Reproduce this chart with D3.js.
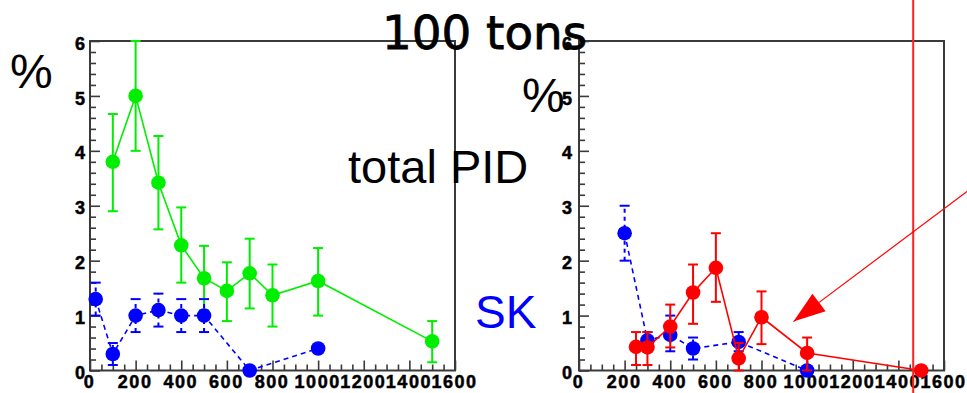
<!DOCTYPE html>
<html>
<head>
<meta charset="utf-8">
<script src="https://cdn.jsdelivr.net/npm/d3@7"></script>
<style>
  html, body { margin: 0; padding: 0; background: #fff; }
  svg { display: block; }
</style>
</head>
<body>
<svg id="chart" width="967" height="393"></svg>
<script>
// ---------- data ----------
const xMajorTicks = [0, 200, 400, 600, 800, 1000, 1200, 1400, 1600];
const yMajorTicks = [0, 1, 2, 3, 4, 5, 6];

// left panel: total PID (green)
const greenX   = [100, 200, 300, 400, 500, 600, 700, 800, 1000, 1500];
const greenY   = [3.8, 5.0, 3.42, 2.28, 1.68, 1.45, 1.77, 1.37, 1.63, 0.53];
const greenLo  = [2.9, 4.0, 2.57, 1.6, 1.1, 0.9, 1.13, 0.8, 1.0, 0.15];
const greenHi  = [4.67, 6.0, 4.27, 2.97, 2.27, 1.97, 2.4, 1.93, 2.23, 0.9];

// left panel: SK (blue)
const skLeftX  = [25, 100, 200, 300, 400, 500, 700, 1000];
const skLeftY  = [1.3, 0.3, 1.0, 1.1, 1.0, 1.0, 0.0, 0.4];
const skLeftLo = [1.0, 0.1, 0.7, 0.8, 0.7, 0.7, 0.0, 0.4];
const skLeftHi = [1.6, 0.5, 1.3, 1.4, 1.3, 1.3, 0.0, 0.4];

// right panel: SK (blue)
const skRightX  = [200, 300, 400, 500, 700, 1000];
const skRightY  = [2.5, 0.55, 0.65, 0.4, 0.52, 0.0];
const skRightLo = [2.0, 0.4, 0.35, 0.2, 0.35, 0.0];
const skRightHi = [3.0, 0.7, 1.0, 0.6, 0.7, 0.0];

// right panel: 100 tons (red)
const redX  = [250, 300, 400, 500, 600, 700, 800, 1000, 1500];
const redY  = [0.43, 0.42, 0.8, 1.42, 1.87, 0.22, 0.97, 0.32, 0.0];
const redLo = [0.1, 0.1, 0.42, 0.85, 1.25, 0.0, 0.48, 0.0, 0.0];
const redHi = [0.7, 0.7, 1.2, 1.93, 2.5, 0.5, 1.44, 0.6, 0.0];

// annotations (right panel data units)
const markerLineX = 1465;
const arrowTip  = [940, 0.89];
const arrowTail = [1846, 3.71];

// ---------- drawing ----------
const svg = d3.select("#chart");
const W = 967, H = 393;
const plotTop = 41, plotBottom = 370.5;
const frameColor = "#3a3a3a";
const tickFont = "'Liberation Sans', Arial, sans-serif";

function toPoints(xs, ys, lo, hi) {
  return xs.map((x, i) => ({ x, y: ys[i], lo: lo[i], hi: hi[i] }));
}

function panel(left, right, labelGap) {
  const x = d3.scaleLinear().domain([0, 1600]).range([left, right]);
  const y = d3.scaleLinear().domain([0, 6]).range([plotBottom, plotTop]);
  const g = svg.append("g");

  g.append("rect")
    .attr("x", left).attr("y", plotTop)
    .attr("width", right - left).attr("height", plotBottom - plotTop)
    .attr("fill", "none").attr("stroke", frameColor).attr("stroke-width", 2);

  const xMinor = d3.range(0, 1601, 50).filter(v => v % 200 !== 0);
  const gxm = g.append("g").attr("transform", `translate(0,${plotBottom})`)
    .call(d3.axisBottom(x).tickValues(xMinor).tickSizeInner(-6).tickSizeOuter(0).tickFormat(""));
  const gx = g.append("g").attr("transform", `translate(0,${plotBottom})`)
    .call(d3.axisBottom(x).tickValues(xMajorTicks).tickSizeInner(-10).tickSizeOuter(0).tickFormat(d3.format("d")));
  const yMinor = d3.range(0, 31).map(v => v / 5).filter((v, i) => i % 5 !== 0);
  const gym = g.append("g").attr("transform", `translate(${left},0)`)
    .call(d3.axisLeft(y).tickValues(yMinor).tickSizeInner(-6).tickSizeOuter(0).tickFormat(""));
  const gy = g.append("g").attr("transform", `translate(${left},0)`)
    .call(d3.axisLeft(y).tickValues(yMajorTicks).tickSizeInner(-10).tickSizeOuter(0).tickFormat(d3.format("d")));

  [gxm, gx, gym, gy].forEach(a => {
    a.select(".domain").remove();
    a.selectAll("line").attr("stroke", frameColor).attr("stroke-width", 1.6);
  });
  gx.selectAll("text")
    .attr("y", 17.5).attr("dy", null).attr("dx", -1)
    .attr("fill", "#000").attr("stroke", "#000").attr("stroke-width", 0.5)
    .style("font-family", tickFont).style("font-weight", "bold")
    .style("font-size", "18px").style("letter-spacing", "1.5px");
  gy.selectAll("text")
    .attr("x", -labelGap).attr("dy", "0.45em")
    .attr("fill", "#000").attr("stroke", "#000").attr("stroke-width", 0.5)
    .style("font-family", tickFont).style("font-weight", "bold")
    .style("font-size", "18px");

  return { x, y, g };
}

function series(p, pts, color, dashed) {
  const line = d3.line().x(d => p.x(d.x)).y(d => p.y(d.y));
  p.g.append("path").datum(pts)
    .attr("d", line).attr("fill", "none")
    .attr("stroke", color).attr("stroke-width", 1.6)
    .attr("stroke-dasharray", dashed ? "5,4" : null);
  const eb = p.g.append("g").selectAll("g").data(pts.filter(d => d.hi > d.lo)).join("g");
  eb.append("line")
    .attr("x1", d => p.x(d.x)).attr("x2", d => p.x(d.x))
    .attr("y1", d => p.y(d.lo)).attr("y2", d => p.y(d.hi))
    .attr("stroke", color).attr("stroke-width", 2).attr("stroke-dasharray", dashed ? "4,4" : null);
  ["lo", "hi"].forEach(k => {
    eb.append("line")
      .attr("x1", d => p.x(d.x) - 5).attr("x2", d => p.x(d.x) + 5)
      .attr("y1", d => p.y(d[k])).attr("y2", d => p.y(d[k]))
      .attr("stroke", color).attr("stroke-width", 2);
  });
  p.g.append("g").selectAll("circle").data(pts).join("circle")
    .attr("cx", d => p.x(d.x)).attr("cy", d => p.y(d.y))
    .attr("r", 7.3).attr("fill", color);
}

const L = panel(90, 455, 5);
const R = panel(579, 944, 7);

series(L, toPoints(greenX, greenY, greenLo, greenHi), "#00ee00", false);
series(L, toPoints(skLeftX, skLeftY, skLeftLo, skLeftHi), "#0000ff", true);
series(R, toPoints(skRightX, skRightY, skRightLo, skRightHi), "#0000ff", true);
series(R, toPoints(redX, redY, redLo, redHi), "#ff0000", false);

// texts
const sans = "'Liberation Sans', Arial, sans-serif";
svg.append("text").attr("x", 382).attr("y", 49)
  .attr("textLength", 205).attr("lengthAdjust", "spacingAndGlyphs")
  .style("font-family", "'DejaVu Sans', sans-serif").style("font-size", "46px")
  .attr("fill", "#000").attr("stroke", "#000").attr("stroke-width", 0.8)
  .text("100 tons");
svg.append("text").attr("x", 10).attr("y", 88)
  .style("font-family", sans).style("font-size", "48px").attr("fill", "#000").text("%");
svg.append("text").attr("x", 522).attr("y", 112)
  .style("font-family", sans).style("font-size", "48px").attr("fill", "#000").text("%");
svg.append("text").attr("x", 348).attr("y", 183)
  .style("font-family", sans).style("font-size", "47px").attr("fill", "#000").text("total PID");
svg.append("text").attr("x", 475).attr("y", 328)
  .style("font-family", sans).style("font-size", "46px").attr("fill", "#0000ff").text("SK");

// annotations: vertical red line and arrow
const vx = R.x(markerLineX);
svg.append("line").attr("x1", vx).attr("x2", vx).attr("y1", 0).attr("y2", H)
  .attr("stroke", "#ff2020").attr("stroke-width", 2);

const tip = [R.x(arrowTip[0]), R.y(arrowTip[1])];
const tail = [R.x(arrowTail[0]), R.y(arrowTail[1])];
svg.append("line").attr("x1", tail[0]).attr("y1", tail[1]).attr("x2", tip[0]).attr("y2", tip[1])
  .attr("stroke", "#ff0000").attr("stroke-width", 1.2);
const dx = tail[0] - tip[0], dy = tail[1] - tip[1];
const len = Math.hypot(dx, dy), ux = dx / len, uy = dy / len;
const headLen = 32, headHalf = 11;
const base = [tip[0] + ux * headLen, tip[1] + uy * headLen];
const head = [tip, [base[0] - uy * headHalf, base[1] + ux * headHalf], [base[0] + uy * headHalf, base[1] - ux * headHalf]];
svg.append("path").attr("d", d3.line()(head) + "Z").attr("fill", "#ff0000");
</script>
</body>
</html>
